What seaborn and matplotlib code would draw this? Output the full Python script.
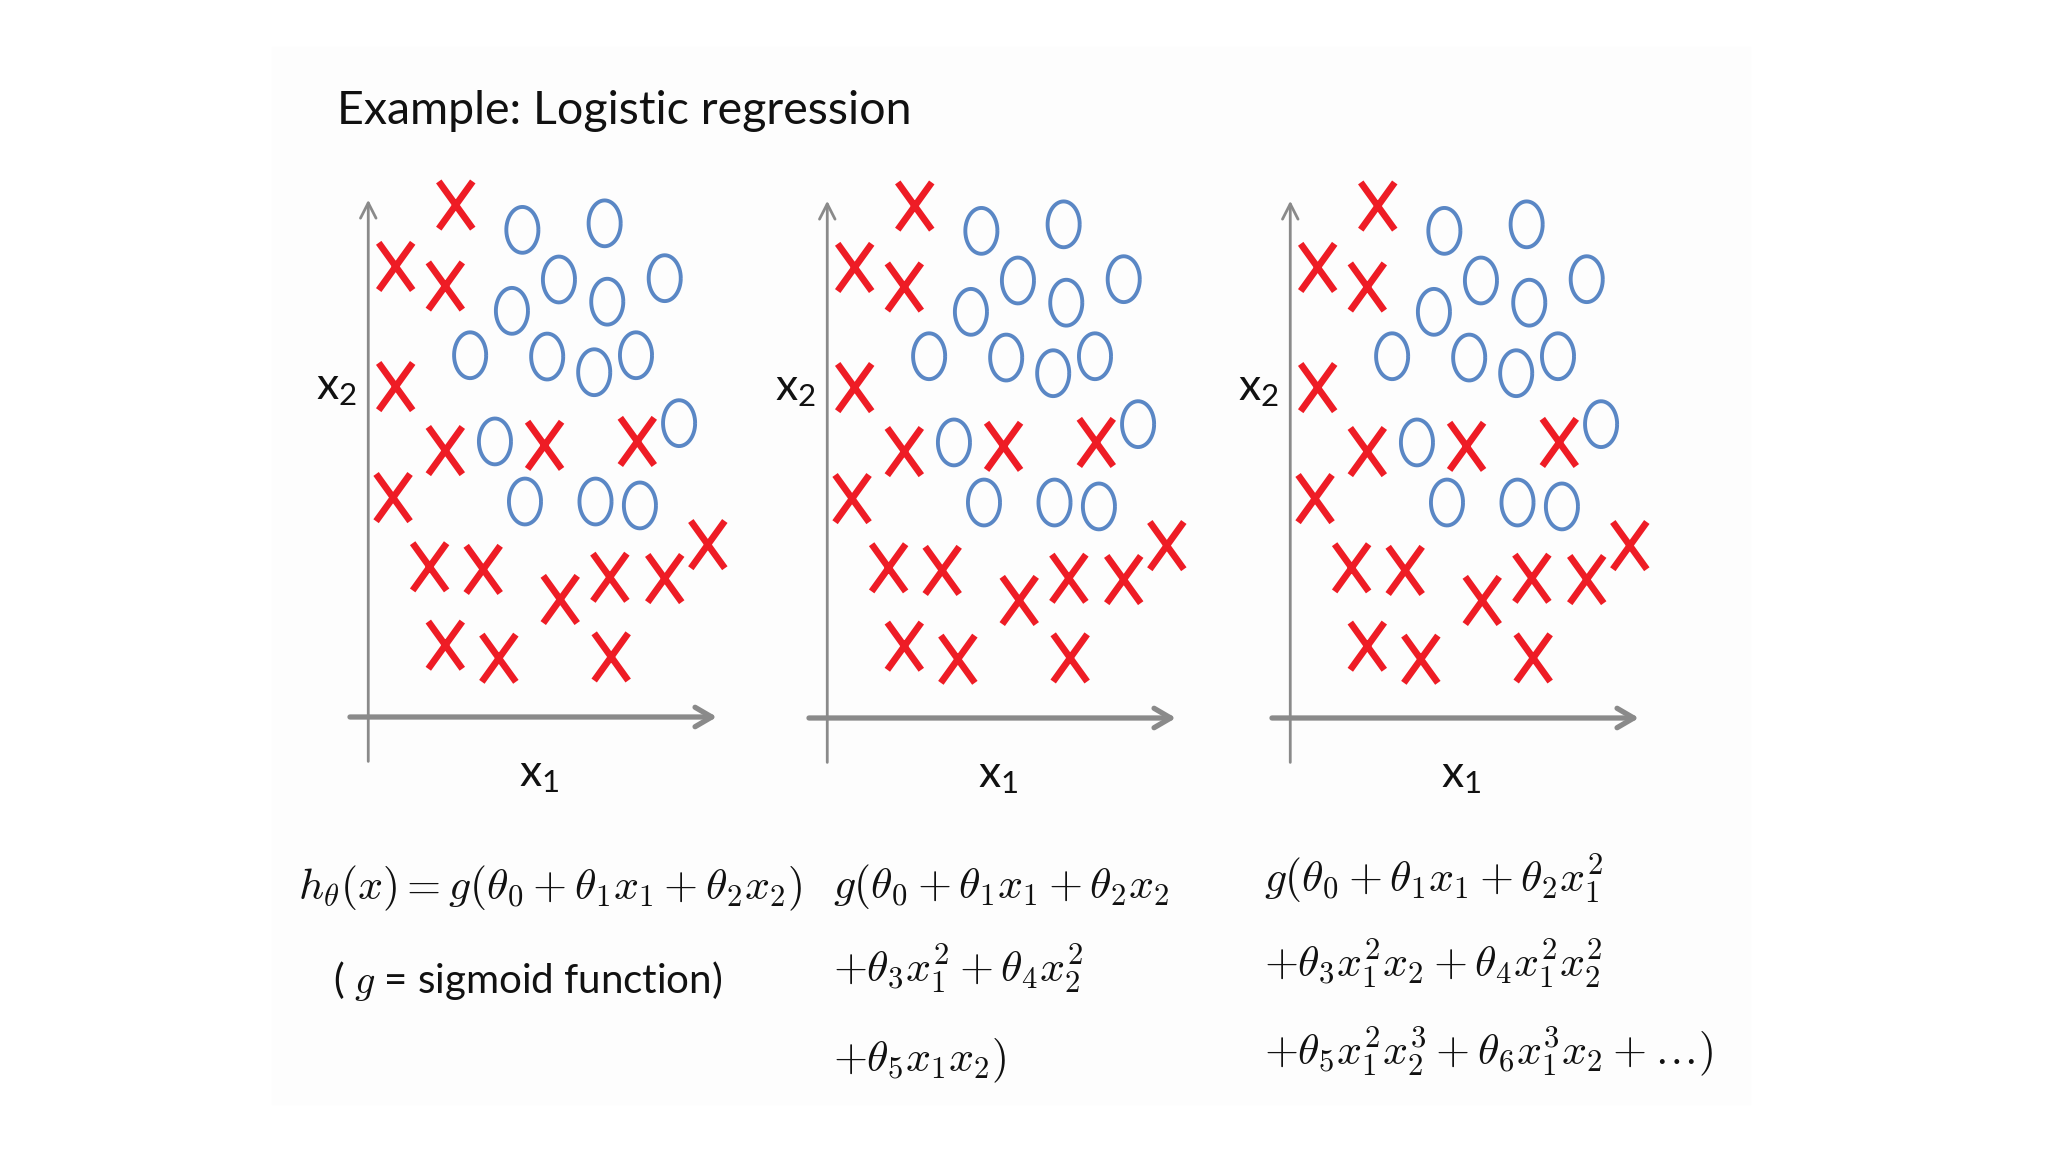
import numpy as np
import pandas as pd
import matplotlib
matplotlib.use("Agg")
import matplotlib.pyplot as plt
from matplotlib.path import Path
from matplotlib.patches import Rectangle
import seaborn as sns

sns.set_style("white")
plt.rcParams["font.family"] = ["Lato", "Liberation Sans", "DejaVu Sans"]

# Training points (same layout in all three panels)
cross_x1 = [6.7, 2.1, 5.9, 2.1, 5.9, 13.5, 20.6, 1.9, 4.7, 8.8, 14.7, 18.5, 22.7, 26.0, 5.9, 10.0, 18.6]
cross_x2 = [39.2, 34.5, 33.0, 25.3, 20.4, 20.8, 21.1, 16.8, 11.5, 11.3, 9.0, 10.7, 10.6, 13.2, 5.5, 4.5, 4.6]
circle_x1 = [11.8, 18.1, 14.6, 22.7, 11.0, 18.3, 7.8, 13.7, 17.3, 20.5, 9.7, 23.8, 12.0, 17.4, 20.8]
circle_x2 = [37.3, 37.8, 33.5, 33.6, 31.1, 31.8, 27.7, 27.6, 26.4, 27.7, 21.1, 22.5, 16.5, 16.5, 16.2]

title = "Example: Logistic regression"
formulas = [
    [r"$h_\theta(x) = g(\theta_0+\theta_1x_1+\theta_2x_2)$"],
    [r"$g(\theta_0+\theta_1x_1+\theta_2x_2$",
     r"$+\theta_3x_1^2+\theta_4x_2^2$",
     r"$+\theta_5x_1x_2)$"],
    [r"$g(\theta_0+\theta_1x_1+\theta_2x_1^2$",
     r"$+\theta_3x_1^2x_2+\theta_4x_1^2x_2^2$",
     r"$+\theta_5x_1^2x_2^3+\theta_6x_1^3x_2+\ldots)$"],
]
note = r"( $g$ = sigmoid function)"

df_x = pd.DataFrame({"x1": cross_x1, "x2": cross_x2})
df_o = pd.DataFrame({"x1": circle_x1, "x2": circle_x2})

red = "#ee1c25"
blue = "#5a87c5"
gray = "#8a8a8a"

# marker shapes: tall cross and tall ellipse
cross_path = Path([(-0.72, -1), (0.72, 1), (-0.72, 1), (0.72, -1)],
                  [Path.MOVETO, Path.LINETO, Path.MOVETO, Path.LINETO])
t = np.linspace(0, 2 * np.pi, 60)
ellipse_path = Path(np.column_stack([0.7 * np.cos(t), np.sin(t)]))

W, H = 2048, 1152
fig = plt.figure(figsize=(20.48, 11.52), dpi=100)
fig.patches.append(Rectangle((272 / W, 1 - 1104 / H), (1750 - 272) / W, (1104 - 47) / H,
                             transform=fig.transFigure, color="#fdfdfd", zorder=-10))

fig.text(337 / W, 1 - 124 / H, title, fontsize=33.5, va="baseline", ha="left", color="#111111")

scale = 13.06  # px per data unit
panel_left = [333, 792, 1255]
panel_origin_y = [717, 718, 718]
for i in range(3):
    x0 = panel_left[i]
    oy = panel_origin_y[i]
    # axes box in data units: x from -2.7 to 28.3, y from -5.1 to 41.9
    bottom_px = oy + 5.1 * scale
    ax = fig.add_axes([x0 / W, 1 - bottom_px / H, 31 * scale / W, 47 * scale / H])
    ax.set_xlim(-2.7, 28.3)
    ax.set_ylim(-5.1, 41.9)
    ax.axis("off")

    ax.annotate("", xy=(0, 39.6), xytext=(0, -3.4),
                arrowprops=dict(arrowstyle="->,head_length=0.55,head_width=0.28",
                                color=gray, lw=2.0, mutation_scale=20, shrinkA=0, shrinkB=0))
    ax.annotate("", xy=(26.7, 0), xytext=(-1.4, 0),
                arrowprops=dict(arrowstyle="->,head_length=0.6,head_width=0.35",
                                color=gray, lw=3.8, mutation_scale=20, shrinkA=0, shrinkB=0))

    sns.scatterplot(data=df_o, x="x1", y="x2", ax=ax, marker=ellipse_path, s=33 ** 2,
                    color=blue, facecolor="none", edgecolor=blue, linewidth=2.8, zorder=3)
    sns.scatterplot(data=df_x, x="x1", y="x2", ax=ax, marker=cross_path, s=34 ** 2,
                    color=red, facecolor="none", edgecolor=red, linewidth=4.8, zorder=4)

    ax.text(-2.4, 25.2, r"$\mathregular{x_2}$", fontsize=32, ha="center", va="center", color="#111111")
    ax.text(13.1, -4.4, r"$\mathregular{x_1}$", fontsize=32, ha="center", va="center", color="#111111")

# formulas under the panels
eq_left = [298, 833, 1264]
eq_base = [[899], [898, 982, 1071], [892, 977, 1064]]
for i in range(3):
    for line, yb in zip(formulas[i], eq_base[i]):
        fig.text(eq_left[i] / W, 1 - yb / H, line, fontsize=31.5, math_fontfamily="cm",
                 va="baseline", ha="left", color="#111111")

fig.text(333 / W, 1 - 993 / H, note, fontsize=29, math_fontfamily="cm",
         va="baseline", ha="left", color="#111111")

plt.savefig("out.png", dpi=100, facecolor="white")
